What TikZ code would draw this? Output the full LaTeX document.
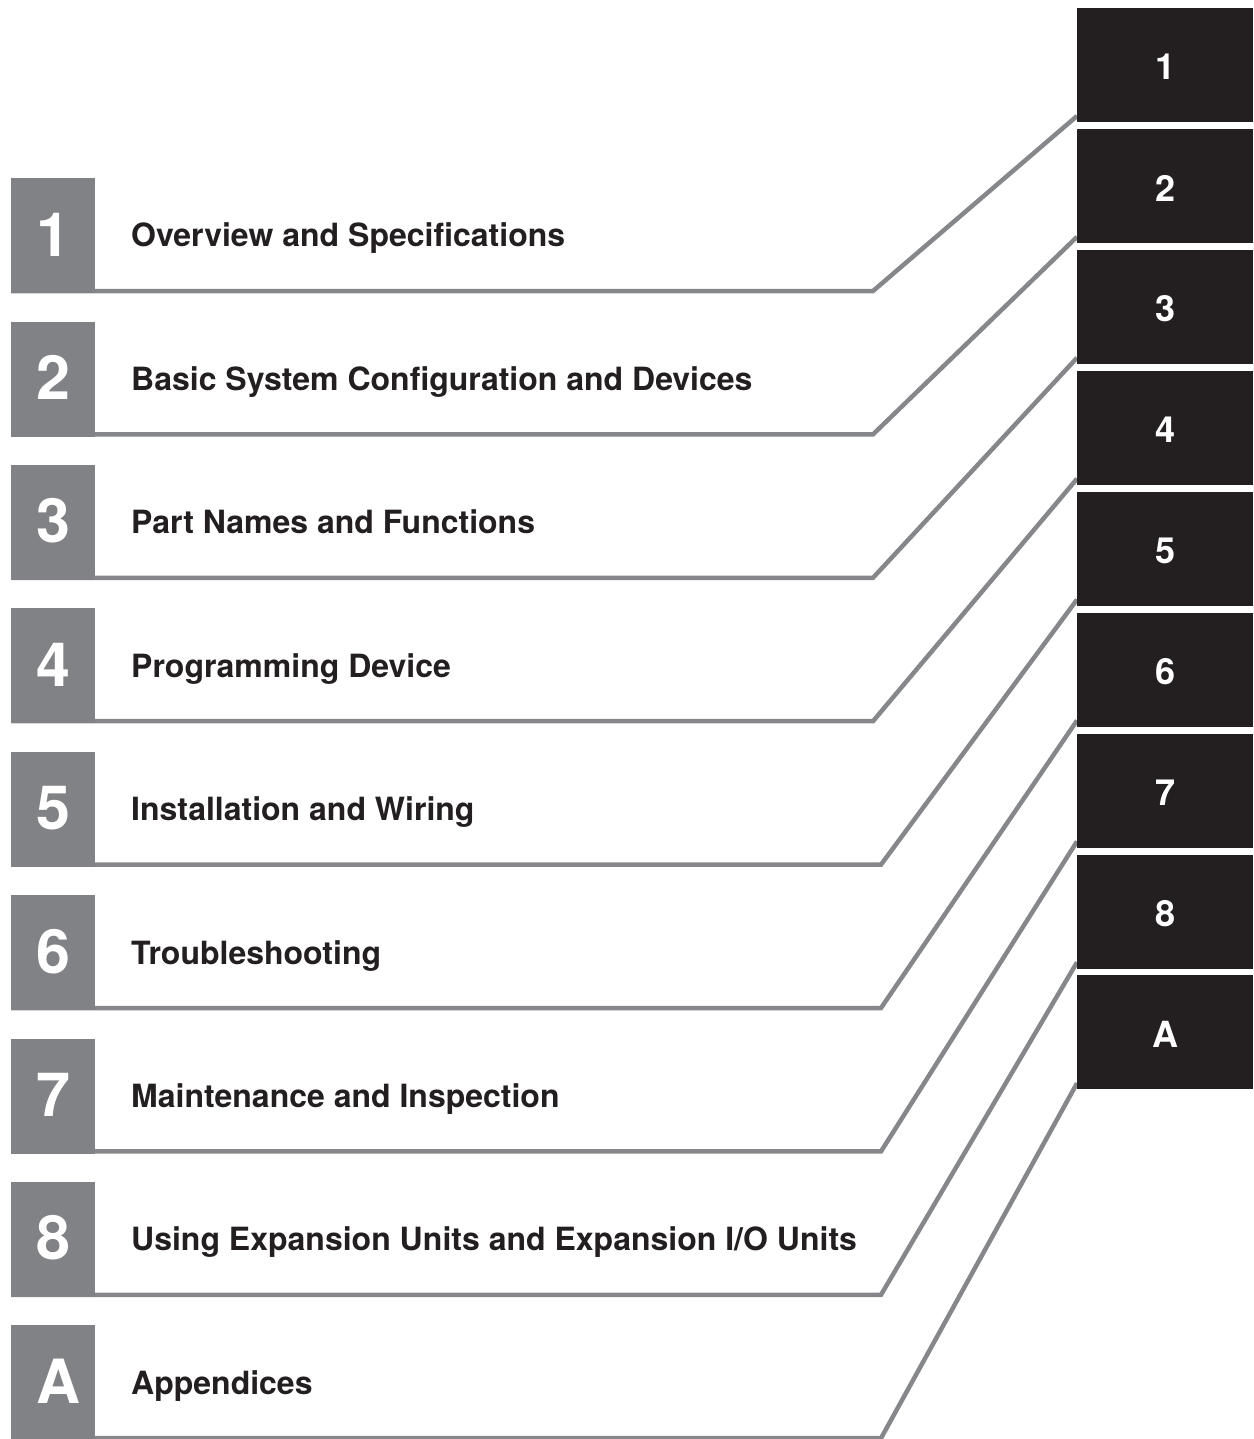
\documentclass[tikz,border=0pt]{standalone}
\usepackage{fontspec}
\setmainfont{TeX Gyre Heros}
\definecolor{boxgray}{HTML}{808285}
\definecolor{linegray}{HTML}{86878A}
\definecolor{tabblack}{HTML}{231F20}
\begin{document}
\begin{tikzpicture}[x=1pt,y=-1pt,
  numbox/.style={fill=boxgray, draw=none, inner sep=0pt, anchor=north west, minimum width=84pt},
  bignum/.style={text=white, font=\fontsize{61}{68}\selectfont\bfseries, anchor=base west, inner sep=0pt},
  title/.style={text=tabblack, font=\fontsize{32}{38}\selectfont\bfseries, anchor=base west, inner sep=0pt},
  tab/.style={fill=tabblack, text=white, font=\fontsize{36}{40}\selectfont\bfseries, anchor=north west, inner sep=0pt, minimum width=176pt, minimum height=114pt},
  leader/.style={draw=linegray, line width=4.5pt, line join=miter}]
\useasboundingbox (0,0) rectangle (1253,1439);
\foreach \i/\lab/\txt/\ex in {1/1/{Overview and Specifications}/873,
  2/2/{Basic System Configuration and Devices}/873,
  3/3/{Part Names and Functions}/873,
  4/4/{Programming Device}/873,
  5/5/{Installation and Wiring}/881,
  6/6/{Troubleshooting}/881,
  7/7/{Maintenance and Inspection}/881,
  8/8/{Using Expansion Units and Expansion I/O Units}/881,
  9/A/{Appendices}/881}{
  \pgfmathsetmacro{\ly}{291+143.4*(\i-1)}
  \pgfmathsetmacro{\ty}{8+120.9*(\i-1)}
  \coordinate (s\i) at (11,\ly);
  \coordinate (e\i) at (\ex,\ly);
  \coordinate (t\i) at (1077,\ty+108);
  \draw[leader] (s\i) -- (e\i) -- (t\i);
  \node[numbox, minimum height=115pt] (box\i) at (11,\ly-113) {};
  \node[bignum] (num\i) at (36,\ly-35) {\lab};
  \node[title] (title\i) at (131,\ly-44) {\txt};
  \node[tab] (tab\i) at (1077,\ty) {\raisebox{-2pt}[\height][\depth]{\lab}};
}
\end{tikzpicture}
\end{document}
